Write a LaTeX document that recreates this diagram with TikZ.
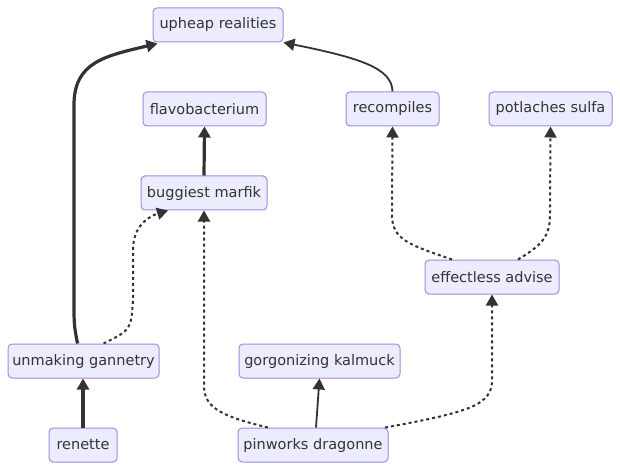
\documentclass[tikz,border=0pt]{standalone}
\usepackage{fontspec}
\setmainfont{DejaVu Sans}
\usetikzlibrary{arrows.meta}
\definecolor{nodefill}{HTML}{ECECFF}
\definecolor{nodeborder}{HTML}{A38ADF}
\definecolor{edgecol}{HTML}{333333}
\begin{document}
\begin{tikzpicture}[x=1pt,y=1pt,
  box/.style={draw=nodeborder, fill=nodefill, rounded corners=4pt, line width=1pt,
    minimum height=34pt, minimum width=#1, inner xsep=2pt, inner ysep=0pt,
    text=edgecol, font=\fontsize{14.5}{16}\selectfont},
  tip/.style={-{Triangle[length=11pt,width=12pt]}},
  thickedge/.style={tip, draw=edgecol, line width=3.2pt},
  normaledge/.style={tip, draw=edgecol, line width=1.8pt},
  dottededge/.style={tip, draw=edgecol, line width=2pt, dash pattern=on 3pt off 3pt}]
\useasboundingbox[fill=white] (0,0) rectangle (620,-470);

\node[box=130pt] (up) at (218,-25) {upheap realities};
\node[box=123pt] (fl) at (204.5,-109) {flavobacterium};
\node[box=126pt] (bm) at (204,-193) {buggiest marfik};
\node[box=93pt] (rc) at (392.5,-109) {recompiles};
\node[box=123pt] (ps) at (550.5,-109) {potlaches sulfa};
\node[box=134pt] (ea) at (492,-277) {effectless advise};
\node[box=151pt] (ug) at (83.5,-361) {unmaking gannetry};
\node[box=161pt] (gk) at (319.5,-361) {gorgonizing kalmuck};
\node[box=68pt] (rn) at (83,-445) {renette};
\node[box=150pt] (pd) at (313,-445) {pinworks dragonne};

% solid thick
\draw[thickedge] ([xshift=-6pt]ug.north) .. controls (74,-325) .. (74,-300) -- (74,-105)
  .. controls (74,-62) and (105,-56) .. ([xshift=5pt,yshift=-1pt]up.south west);
\draw[thickedge] (bm.north) -- (fl.south);
\draw[thickedge] (rn.north) -- (rn.north |- ug.south);
% solid normal
\draw[normaledge] (rc.north) .. controls (392,-68) and (360,-58) .. ([yshift=0pt]up.south east);
\draw[normaledge] ([xshift=3pt]pd.north) -- (gk.south);
% dotted
\draw[dottededge] ([xshift=20pt]ug.north) .. controls (131,-330) .. (133,-300) -- (133,-250)
  .. controls (133,-225) and (150,-216) .. ([xshift=-36pt]bm.south);
\draw[dottededge] ([xshift=-45pt]pd.north) .. controls (215,-415) and (204,-405) .. (204,-385) -- (bm.south);
\draw[dottededge] ([xshift=72pt]pd.north) .. controls (470,-412) and (492,-405) .. (492,-380) -- (ea.south);
\draw[dottededge] ([xshift=-40pt]ea.north) .. controls (410,-245) and (392,-240) .. (392,-215) -- (rc.south);
\draw[dottededge] ([xshift=26pt]ea.north) .. controls (540,-246) and (550,-238) .. (550,-215) -- (ps.south);
\end{tikzpicture}
\end{document}
